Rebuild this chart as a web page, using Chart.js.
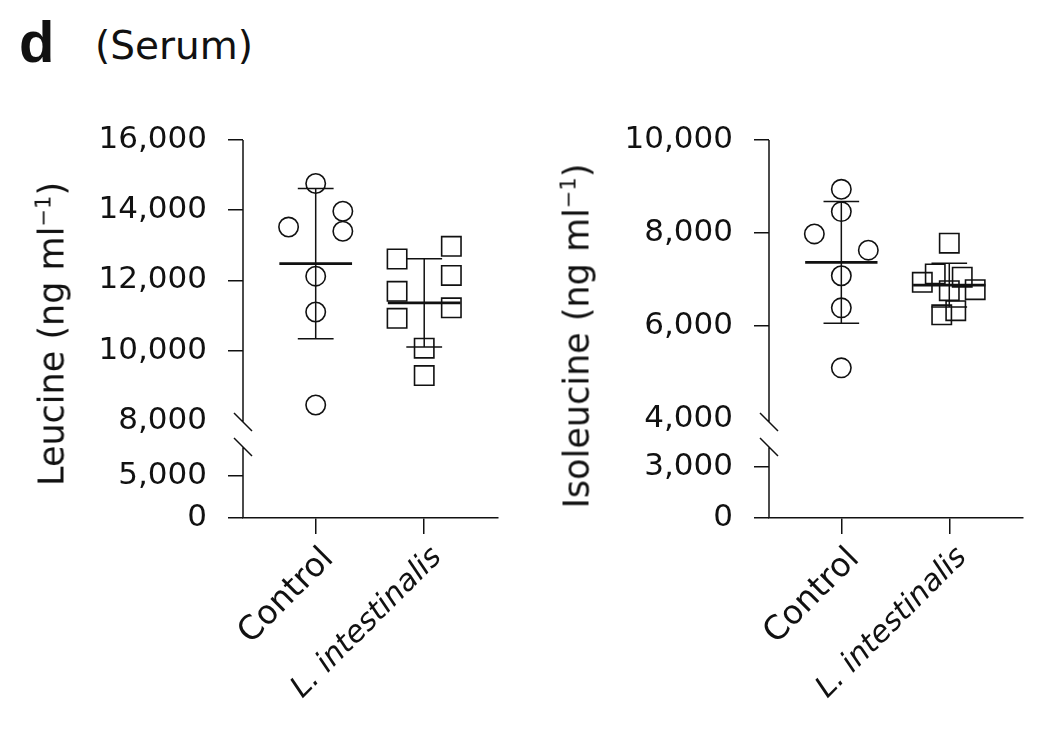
<!DOCTYPE html>
<html>
<head>
<meta charset="utf-8">
<script src="https://cdn.jsdelivr.net/npm/chart.js@4.4.1/dist/chart.umd.min.js"></script>
<style>
  html, body { margin: 0; padding: 0; background: #fff; }
  body { width: 1038px; height: 744px; position: relative; overflow: hidden; font-family: "DejaVu Sans", sans-serif; color: #111; }
  .panel { position: absolute; top: 0; width: 519px; height: 744px; }
  #wrapLeu { left: 0; }
  #wrapIle { left: 519px; }
  .letter { position: absolute; left: 19px; top: 13px; font: bold 58px/58px "Liberation Sans", Arial, sans-serif; }
  .sub { position: absolute; left: 95px; top: 26px; font-size: 39px; line-height: 39px; }
  .ytitle { position: absolute; font-size: 35px; line-height: 35px; white-space: nowrap; transform: translate(-50%, -50%) rotate(-90deg); }
  .ytitle sup { font-size: 0.6em; line-height: 0; }
</style>
</head>
<body>
<div class="letter">d</div>
<div class="sub">(Serum)</div>
<div class="panel" id="wrapLeu"><canvas id="leuChart" width="519" height="744"></canvas></div>
<div class="panel" id="wrapIle"><canvas id="ileChart" width="519" height="744"></canvas></div>
<div class="ytitle" style="left:52px; top:334px;">Leucine (ng ml<sup>−1</sup>)</div>
<div class="ytitle" style="left:577px; top:336px;">Isoleucine (ng ml<sup>−1</sup>)</div>

<script>
// ===============================
//     DATOS
// ===============================
const groups = ["Control", "L. intestinalis"];

// Leucina (ng/ml)
const leuControl  = [14760, 13520, 13970, 13400, 12120, 11100, 8450];
const leuControlX = [1, 0.75, 1.25, 1.25, 1, 1, 1];
const leuLint     = [12610, 12970, 12140, 11690, 11220, 10920, 10070, 9290];
const leuLintX    = [1.75, 2.25, 2.25, 1.75, 2.25, 1.75, 2, 2];
const leuMean     = [12480, 11360];
const leuSd       = [2140, 1260];
const leuTicksTop    = [8000, 10000, 12000, 14000, 16000];
const leuTicksBottom = [0, 5000];

// Isoleucina (ng/ml)
const ileControl  = [8940, 8460, 7980, 7630, 7080, 6390, 5100];
const ileControlX = [1, 1, 0.75, 1.25, 1, 1, 1];
const ileLint     = [7780, 7120, 7050, 6940, 6760, 6780, 6330, 6240];
const ileLintX    = [2, 1.87, 2.12, 1.75, 2, 2.24, 2.06, 1.93];
const ileMean     = [7370, 6880];
const ileSd       = [1310, 470];
const ileTicksTop    = [4000, 6000, 8000, 10000];
const ileTicksBottom = [0, 3000];

const INK = "#111";
const FONT = "'DejaVu Sans', sans-serif";

function pts(xs, ys) {
  return ys.map((v, i) => ({ x: xs[i], y: v }));
}

// media +/- DE
const errorBars = {
  id: "errorBars",
  afterDatasetsDraw(chart, args, opts) {
    const { ctx, scales: { x, y } } = chart;
    ctx.save();
    ctx.strokeStyle = INK;
    opts.mean.forEach((m, i) => {
      const cx = x.getPixelForValue(i + 1);
      const top = y.getPixelForValue(m + opts.sd[i]);
      const bot = y.getPixelForValue(m - opts.sd[i]);
      const my = y.getPixelForValue(m);
      const capW = x.getPixelForValue(i + 1 + 0.165) - cx;
      const meanW = x.getPixelForValue(i + 1 + 0.335) - cx;
      ctx.lineWidth = 1.5;
      ctx.beginPath();
      ctx.moveTo(cx, top); ctx.lineTo(cx, bot);
      ctx.moveTo(cx - capW, top); ctx.lineTo(cx + capW, top);
      ctx.moveTo(cx - capW, bot); ctx.lineTo(cx + capW, bot);
      ctx.stroke();
      ctx.lineWidth = 2.8;
      ctx.beginPath();
      ctx.moveTo(cx - meanW, my); ctx.lineTo(cx + meanW, my);
      ctx.stroke();
    });
    ctx.restore();
  }
};

// eje Y cortado
const brokenAxis = {
  id: "brokenAxis",
  afterDraw(chart) {
    const { ctx, scales: { y, y2 } } = chart;
    const ax = y.right;
    const upEnd = y.bottom - 12;
    const lowStart = y2.top + 13;
    ctx.save();
    ctx.strokeStyle = INK;
    ctx.lineWidth = 1.5;
    ctx.beginPath();
    ctx.moveTo(ax, y.top); ctx.lineTo(ax, upEnd);
    ctx.moveTo(ax, lowStart); ctx.lineTo(ax, y2.bottom);
    [upEnd, lowStart].forEach(py => {
      ctx.moveTo(ax - 9, py - 9);
      ctx.lineTo(ax + 9, py + 9);
    });
    ctx.stroke();
    ctx.restore();
  }
};

function makeChart(id, cfg) {
  const ctx = document.getElementById(id).getContext("2d");
  const hideFirst = (ticks) => (c) => (c.tick && c.tick.value === ticks[0] ? "rgba(0,0,0,0)" : INK);

  return new Chart(ctx, {
    type: "scatter",
    data: {
      datasets: [
        {
          data: pts(cfg.ctlX, cfg.ctl),
          yAxisID: "y",
          pointStyle: "circle",
          pointRadius: 9.7,
          pointBorderWidth: 1.6,
          pointBorderColor: INK,
          pointBackgroundColor: "rgba(0,0,0,0)"
        },
        {
          data: pts(cfg.lintX, cfg.lint),
          yAxisID: "y",
          pointStyle: "rect",
          pointRadius: 13.7,
          pointBorderWidth: 1.6,
          pointBorderColor: INK,
          pointBackgroundColor: "rgba(0,0,0,0)"
        }
      ]
    },
    options: {
      responsive: false,
      animation: false,
      devicePixelRatio: 1,
      layout: { padding: { top: 140, right: cfg.padRight, left: 0, bottom: 0 } },
      plugins: {
        legend: { display: false },
        tooltip: { enabled: false },
        errorBars: { mean: cfg.mean, sd: cfg.sd }
      },
      scales: {
        x: {
          type: "linear",
          min: 0.33,
          max: 2.68,
          afterBuildTicks: s => { s.ticks = groups.map((g, i) => ({ value: i + 1 })); },
          afterFit: s => { s.height = 226; },
          border: { display: true, color: INK, width: 1.5 },
          grid: { drawOnChartArea: false, drawTicks: true, tickLength: 16, color: INK, lineWidth: 1.5 },
          ticks: {
            autoSkip: false,
            minRotation: 45,
            maxRotation: 45,
            padding: 6,
            labelOffset: 13,
            color: INK,
            font: c => (c.index === 1
              ? { family: FONT, size: 30, style: "italic" }
              : { family: FONT, size: 33, style: "normal" }),
            callback: v => groups[v - 1]
          }
        },
        y: {
          type: "linear",
          position: "left",
          stack: id,
          stackWeight: 294,
          weight: 1,
          min: cfg.upMin,
          max: cfg.upMax,
          afterBuildTicks: s => { s.ticks = cfg.ticksTop.map(v => ({ value: v })); },
          afterFit: s => { s.width = cfg.axisW; },
          border: { display: false },
          grid: { drawOnChartArea: false, tickLength: 15, lineWidth: 1.5, color: hideFirst(cfg.ticksTop) },
          ticks: { padding: 21, color: INK, font: { family: FONT, size: 31 }, callback: v => v.toLocaleString("en-US") }
        },
        y2: {
          type: "linear",
          position: "left",
          stack: id,
          stackWeight: 84,
          weight: 0,
          min: 0,
          max: cfg.lowMax,
          afterBuildTicks: s => { s.ticks = cfg.ticksBottom.map(v => ({ value: v })); },
          afterFit: s => { s.width = cfg.axisW; },
          border: { display: false },
          grid: { drawOnChartArea: false, tickLength: 15, lineWidth: 1.5, color: INK },
          ticks: { padding: 21, color: INK, font: { family: FONT, size: 31 }, callback: v => v.toLocaleString("en-US") }
        }
      }
    },
    plugins: [errorBars, brokenAxis]
  });
}

makeChart("leuChart", {
  ctl: leuControl, ctlX: leuControlX, lint: leuLint, lintX: leuLintX,
  mean: leuMean, sd: leuSd,
  ticksTop: leuTicksTop, ticksBottom: leuTicksBottom,
  upMin: 7624, upMax: 16000, lowMax: 10000,
  axisW: 243, padRight: 21
});

makeChart("ileChart", {
  ctl: ileControl, ctlX: ileControlX, lint: ileLint, lintX: ileLintX,
  mean: ileMean, sd: ileSd,
  ticksTop: ileTicksTop, ticksBottom: ileTicksBottom,
  upMin: 3677, upMax: 10000, lowMax: 4941,
  axisW: 250, padRight: 13
});
</script>
</body>
</html>
